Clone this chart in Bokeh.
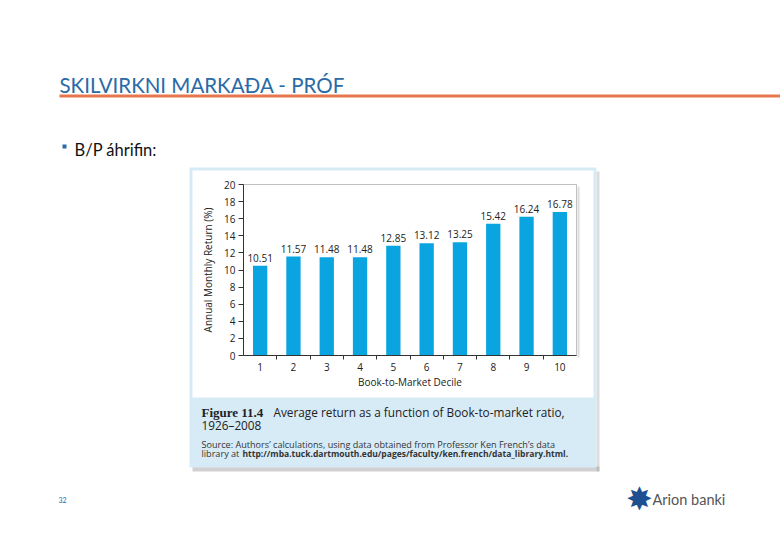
import math
from bokeh.plotting import figure
from bokeh.models import Range1d, Label, BoxAnnotation, FixedTicker
from bokeh.core.properties import value
from bokeh.embed import file_html
from bokeh.resources import INLINE

# ---- data ----
deciles = [1, 2, 3, 4, 5, 6, 7, 8, 9, 10]
returns = [10.51, 11.57, 11.48, 11.48, 12.85, 13.12, 13.25, 15.42, 16.24, 16.78]
value_labels = ["10.51", "11.57", "11.48", "11.48", "12.85", "13.12", "13.25", "15.42", "16.24", "16.78"]
y_ticks = [0, 2, 4, 6, 8, 10, 12, 14, 16, 18, 20]
x_bounds = (0.5, 10.5)
y_bounds = (0, 20)
x_label = "Book-to-Market Decile"
y_label = "Annual Monthly Return (%)"
slide_title = "SKILVIRKNI MARKAÐA - PRÓF"
bullet_text = "B/P áhrifin:"
fig_number = "Figure 11.4"
fig_caption = "Average return as a function of Book-to-market ratio,"
fig_years = "1926–2008"
source_line1 = "Source: Authors’ calculations, using data obtained from Professor Ken French’s data"
source_line2a = "library at "
source_line2b = "http://mba.tuck.dartmouth.edu/pages/faculty/ken.french/data_library.html."
page_number = "32"
logo_mark = "✸"
logo_text = "Arion banki"

# ---- layout (page pixel coordinates) ----
W, H = 780, 540
FX0 = 40           # left border (frame starts here)
FY1 = 512          # frame bottom
CL, CR, CT, CB = 243, 576, 184, 355   # chart plot area on the page
ppx = (CR - CL) / (x_bounds[1] - x_bounds[0])
ppy = (CB - CT) / (y_bounds[1] - y_bounds[0])

BAR = "#0aa5e1"
PANEL = "#d7ebf7"
TITLE_BLUE = "#2a6aa6"
ORANGE = "#e8764c"
CHART_FONT = "Open Sans"
SLIDE_FONT = "Lato"

p = figure(width=W, height=H, title=None, output_backend="svg", toolbar_location=None,
           x_range=Range1d(x_bounds[0] - (CL - FX0) / ppx, x_bounds[1] + (W - CR) / ppx),
           y_range=Range1d(y_bounds[0] - (FY1 - CB) / ppy, y_bounds[1] + CT / ppy),
           min_border_left=FX0, min_border_right=0, min_border_top=0,
           min_border_bottom=H - FY1)
p.extra_x_ranges = {"px": Range1d(FX0, W)}
p.extra_y_ranges = {"py": Range1d(FY1, 0)}

p.background_fill_color = "white"
p.border_fill_color = "white"
p.outline_line_color = None
p.xgrid.visible = False
p.ygrid.visible = False


def box(l, r, t, b, color, alpha=1.0, level="underlay"):
    p.add_layout(BoxAnnotation(left=l, right=r, top=t, bottom=b,
                               x_range_name="px", y_range_name="py",
                               fill_color=color, fill_alpha=alpha,
                               line_color=None, level=level))


def label(x, y, text, font, size, color, style="normal", align="left", angle=0.0):
    # y is the vertical middle of the text line
    p.add_layout(Label(x=x, y=y, text=text, x_range_name="px", y_range_name="py",
                       text_font=font, text_font_size=size, text_color=color,
                       text_font_style=style, text_align=align,
                       text_baseline="middle", angle=angle))


# panel shadow
box(192, 599, 466, 471, "#9a9a9a", 0.45)
box(596, 599, 171, 471, "#9a9a9a", 0.35)
# panel: light blue with white chart area
box(189, 596, 167, 467, PANEL)
box(192, 593, 170, 397, "white")
# chart frame shadow + outline (top/right visible; left/bottom under axes)
box(577, 579, 186, 357, "#9a9a9a", 0.35)
p.add_layout(BoxAnnotation(left=x_bounds[0], right=x_bounds[1], bottom=y_bounds[0],
                           top=y_bounds[1], fill_color=None, line_color="#333333",
                           line_width=1, level="underlay"))

# bars and value labels
p.vbar(x=deciles, top=returns, width=0.43, bottom=0, fill_color=BAR, line_color=None)
p.text(x=deciles, y=returns, text=value_labels, text_align="center",
       text_baseline="middle", y_offset=-8, text_font=value(CHART_FONT),
       text_font_size="10px", text_color="#222222")

# axes, fixed at the chart area
xa = p.xaxis[0]
xa.fixed_location = y_bounds[0]
xa.bounds = x_bounds
xa.ticker = FixedTicker(ticks=deciles, minor_ticks=[1.5, 2.5, 3.5, 4.5, 5.5, 6.5, 7.5, 8.5, 9.5])
xa.major_tick_out = 0
xa.major_tick_in = 0
xa.minor_tick_out = 4
xa.minor_tick_in = 0
xa.major_label_standoff = 3

ya = p.yaxis[0]
ya.fixed_location = x_bounds[0]
ya.bounds = y_bounds
ya.ticker = FixedTicker(ticks=y_ticks, minor_ticks=[])
ya.major_tick_out = 5
ya.major_tick_in = 0
ya.minor_tick_out = 0
ya.minor_tick_in = 0
ya.major_label_standoff = 3

for ax in (xa, ya):
    ax.axis_line_color = "#333333"
    ax.major_tick_line_color = "#333333"
    ax.minor_tick_line_color = "#333333"
    ax.major_label_text_font = CHART_FONT
    ax.major_label_text_font_size = "10px"
    ax.major_label_text_color = "#222222"

# axis titles
label((CL + CR) / 2, 381, x_label, CHART_FONT, "10px", "#222222", align="center")
label(207, (CT + CB) / 2, y_label, CHART_FONT, "10px", "#222222", align="center",
      angle=math.pi / 2)

# caption
label(201, 411.5, fig_number, "Liberation Serif", "13px", "#222222", style="bold")
label(273, 411.5, fig_caption, CHART_FONT, "11.8px", "#222222")
label(201, 424, fig_years, CHART_FONT, "11.8px", "#222222")
label(201, 443.5, source_line1, CHART_FONT, "9.1px", "#333333")
label(201, 452.5, source_line2a, CHART_FONT, "9.1px", "#333333")
label(242, 452.5, source_line2b, CHART_FONT, "8.5px", "#333333", style="bold")

# slide decorations
label(59, 84, slide_title, SLIDE_FONT, "20.5px", TITLE_BLUE)
box(59, 780, 94, 97, ORANGE)
box(62, 66, 144, 148, TITLE_BLUE)
label(74, 149, bullet_text, SLIDE_FONT, "16.5px", "#111111")
label(58, 499.5, page_number, SLIDE_FONT, "7px", TITLE_BLUE)
label(639, 498, logo_mark, "DejaVu Sans", "32px", "#1d4f91", align="center")
label(652, 498.5, logo_text, SLIDE_FONT, "14.5px", "#555555")

open("out.html", "w").write(file_html(p, INLINE))
